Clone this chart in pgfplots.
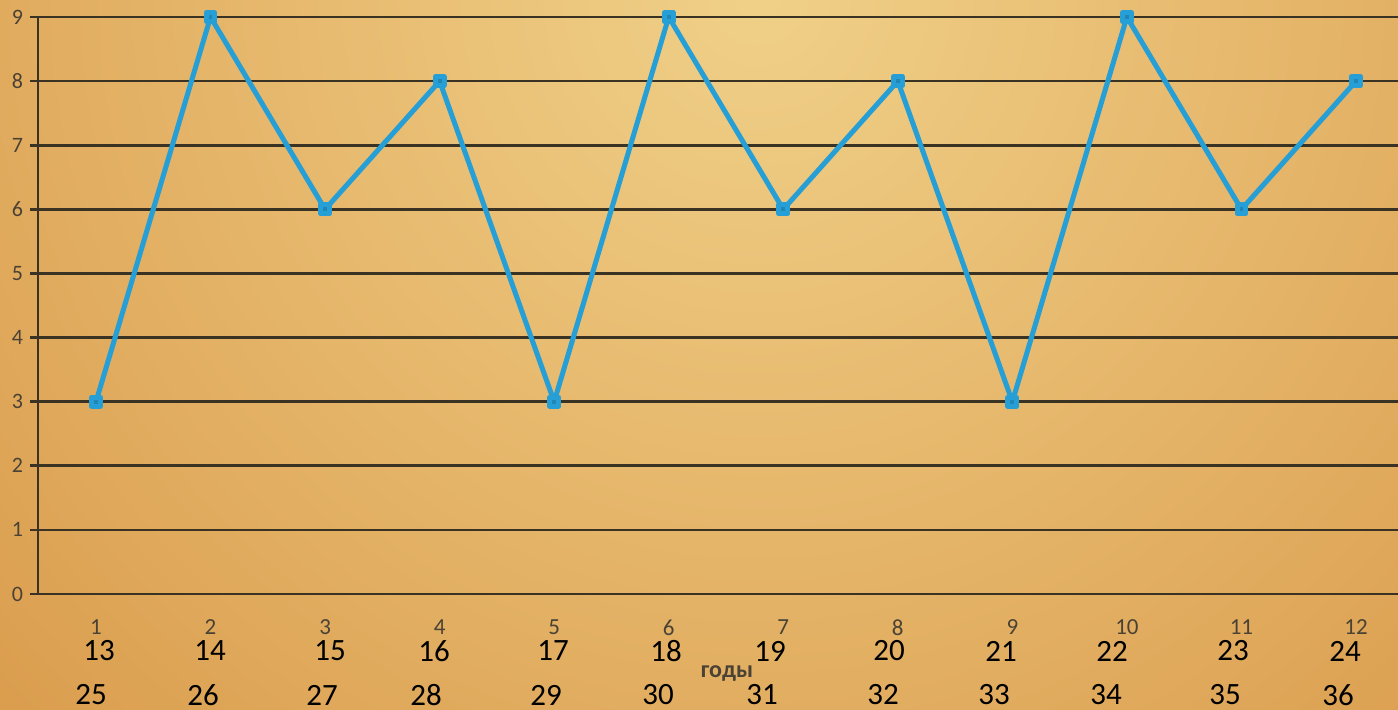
\documentclass[border=0pt]{standalone}
\usepackage{pgfplots}
\pgfplotsset{compat=1.18}
\usepackage{fontspec}
\setmainfont{Carlito}
\definecolor{bginner}{HTML}{F0D088}
\definecolor{bgouter}{HTML}{D18634}
\definecolor{gridc}{HTML}{3A3222}
\definecolor{linec}{RGB}{38,158,214}
\definecolor{labc}{HTML}{4A4234}
\begin{document}
\begin{tikzpicture}
\useasboundingbox (-19pt,-57.5pt) rectangle (680pt,297pt);
\begin{scope}
\clip (-19pt,-57.5pt) rectangle (680pt,297pt);
\shade[inner color=bginner, outer color=bgouter] (360pt,300pt) circle (760pt);
\end{scope}
\begin{axis}[
  at={(0,0)}, anchor=south west,
  scale only axis, width=680pt, height=288.5pt,
  xmin=0.4937, xmax=12.3667, ymin=0, ymax=9,
  axis lines=left,
  axis line style={gridc, line width=1.3pt, -},
  xtick={1,...,12}, ytick={0,...,9},
  ymajorgrids,
  major grid style={gridc, line width=1.3pt},
  tick align=outside, major tick length=4pt,
  y tick style={gridc, line width=1.3pt},
  x tick style={draw=none},
  tick label style={font=\fontsize{11}{13}\selectfont, text=labc},
  xticklabel style={yshift=-5.5pt, font=\fontsize{11.5}{13}\selectfont},
  /pgf/number format/assume math mode=true,
  clip=false,
]
\addplot[linec, line width=2.5pt, line join=round,
  mark=square*, mark size=2.2pt, mark options={fill=linec!85!black, draw=none}]
  coordinates {(1,3)(2,9)(3,6)(4,8)(5,3)(6,9)(7,6)(8,8)(9,3)(10,9)(11,6)(12,8)};
\end{axis}
\foreach \n/\px in {13/99,14/210,15/330,16/434,17/553,18/666,19/770,20/889,21/1001,22/1112,23/1233,24/1345}
  \node[font=\fontsize{15.5}{18}\selectfont, inner sep=0pt] at ({(\px-38)*0.5pt},-28.5pt) {\n};
\foreach \n/\px in {25/91,26/203,27/322,28/426,29/546,30/658,31/762,32/883,33/994,34/1106,35/1225,36/1338}
  \node[font=\fontsize{15.5}{18}\selectfont, inner sep=0pt] at ({(\px-38)*0.5pt},-50.5pt) {\n};
\node[font=\bfseries\fontsize{12}{14}\selectfont, text=labc, anchor=base, inner sep=0pt] at (344.5pt,-41.5pt) {годы};
\end{tikzpicture}
\end{document}
